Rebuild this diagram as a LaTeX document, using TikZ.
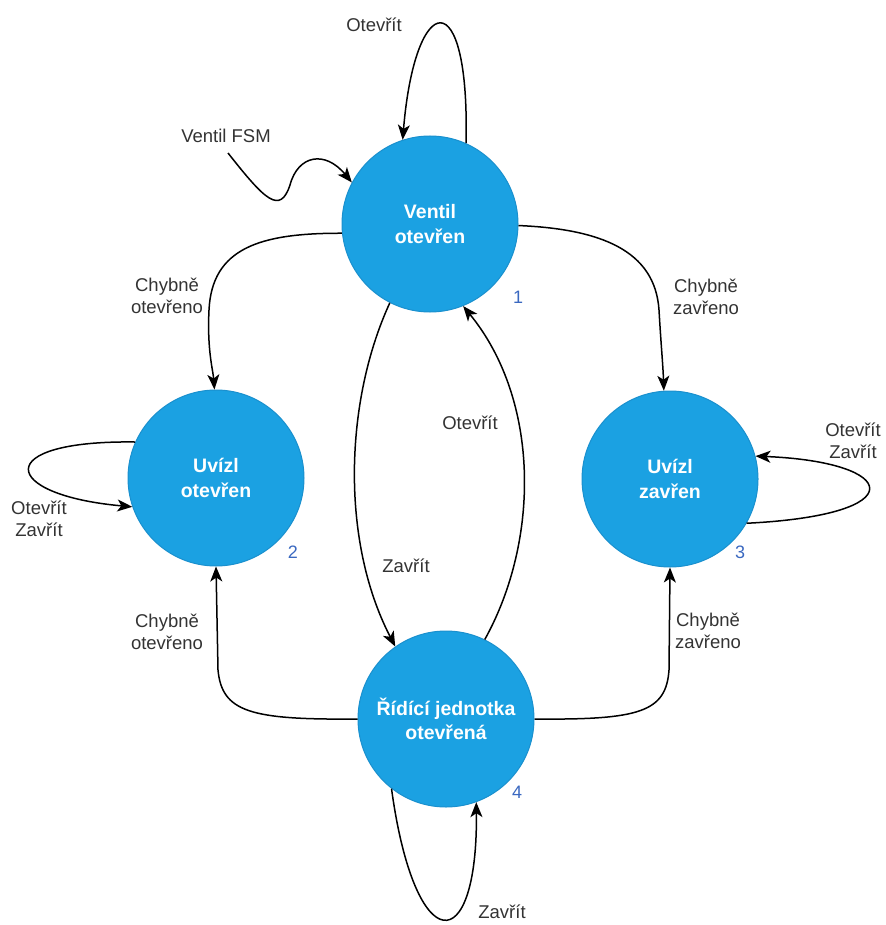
\documentclass[tikz,border=0pt]{standalone}
\usepackage{fontspec}
\setmainfont{Liberation Sans}
\usetikzlibrary{arrows.meta}
\definecolor{stfill}{HTML}{1BA1E2}
\definecolor{ststroke}{HTML}{1A90CE}
\definecolor{numblue}{HTML}{3A68C0}
\definecolor{txt}{HTML}{333333}
\begin{document}
\begin{tikzpicture}[x=1pt,y=-1pt,
  state/.style={circle,fill=stfill,draw=ststroke,line width=1pt,minimum size=176pt,inner sep=0pt,
    text=white,font=\fontsize{19.5}{24.5}\selectfont\bfseries,align=center},
  lbl/.style={font=\fontsize{18.5}{22.5}\selectfont,text=txt,align=center,inner sep=0pt},
  num/.style={font=\fontsize{18}{22}\selectfont,text=numblue,inner sep=0pt},
  edge/.style={draw=black,line width=1.5pt,-{Stealth[length=15pt,width=12pt,inset=4pt]}}]
\useasboundingbox (0,0) rectangle (885,925);
% states
\node[state] (c1) at (430,224) {Ventil\\otevřen};
\node[state] (c2) at (216,478) {Uvízl\\otevřen};
\node[state] (c3) at (670,479) {Uvízl\\zavřen};
\node[state] (c4) at (446,719) {Řídící jednotka\\otevřená};
% numbers
\node[num] (n1) at (518,297) {1};
\node[num] (n2) at (293,552) {2};
\node[num] (n3) at (740,552) {3};
\node[num] (n4) at (517,792) {4};
% labels
\node[lbl] (lfsm) at (226,136) {Ventil FSM};
\node[lbl] (lo1) at (374,25) {Otevřít};
\node[lbl] (l12) at (167,296) {Chybně\\otevřeno};
\node[lbl] (l13) at (706,297) {Chybně\\zavřeno};
\node[lbl] (l14) at (406,566) {Zavřít};
\node[lbl] (l41) at (470,423) {Otevřít};
\node[lbl] (l22) at (39,519) {Otevřít\\Zavřít};
\node[lbl] (l33) at (853,441) {Otevřít\\Zavřít};
\node[lbl] (l42) at (167,632) {Chybně\\otevřeno};
\node[lbl] (l43) at (708,631) {Chybně\\zavřeno};
\node[lbl] (l44) at (502,912) {Zavřít};
% start arrow
\coordinate (s0) at (228,153);
\draw[edge] (s0) .. controls (265,200) and (280,215) .. (290,185)
  .. controls (298,155) and (325,150) .. (c1.152);
% self loop 1
\draw[edge] (c1.66) .. controls (470,-20) and (415,-10) .. (c1.108);
% 1 -> 2
\draw[edge] (c1.186) .. controls (260,233) and (212,248) .. (209,310)
  .. controls (207,350) and (213,370) .. (c2.91);
% 1 -> 3
\draw[edge] (c1.-1) .. controls (600,229) and (655,250) .. (659,310)
  .. controls (661,345) and (663,365) .. (c3.94);
% 1 -> 4
\draw[edge] (c1.-117) .. controls (345,400) and (340,540) .. (c4.125);
% 4 -> 1
\draw[edge] (c4.64) .. controls (540,540) and (540,400) .. (c1.-68);
% self loop 2
\draw[edge] (c2.156) .. controls (-10,440) and (0,495) .. (c2.199);
% self loop 3
\draw[edge] (c3.-30) .. controls (915,515) and (900,462) .. (c3.15);
% self loop 4
\draw[edge] (c4.-128) .. controls (415,960) and (478,960) .. (c4.-70);
% 4 -> 2
\draw[edge] (c4.180) .. controls (250,720) and (222,712) .. (218,670) -- (c2.-90);
% 4 -> 3
\draw[edge] (c4.0) .. controls (640,720) and (666,712) .. (669,670) -- (c3.-90);
\end{tikzpicture}
\end{document}
